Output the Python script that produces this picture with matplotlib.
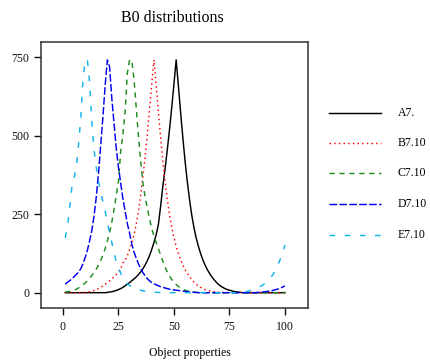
import matplotlib
matplotlib.use("Agg")
import matplotlib.pyplot as plt
from matplotlib.lines import Line2D

x = list(range(1, 101))

a7 = [0]*19 + [1, 2, 3, 5, 7, 10, 13, 17, 22, 27, 32, 38, 44, 50, 58, 66, 76, 88, 102, 118,
                138, 160, 185, 218, 275, 340, 395, 455, 520, 590, 665, 742, 660, 575, 495, 420,
                355, 298, 248, 208, 175, 148, 125, 105, 88, 74, 62, 51, 42, 34, 27, 21, 17, 13,
                10, 8, 6, 4, 3, 2, 1] + [0]*20

b710 = [0]*9 + [1, 2, 3, 5, 7, 10, 13, 17, 22, 27, 32, 38, 44, 50, 58, 66, 76, 95, 102, 118,
                138, 160, 185, 218, 258, 310, 370, 430, 505, 585, 665, 742, 660, 575, 495, 420,
                355, 298, 248, 208, 175, 148, 125, 105, 88, 74, 62, 51, 42, 34, 27, 21, 17, 13,
                10, 8, 6, 4, 3, 2, 1] + [0]*30

c710 = [2, 3, 4, 6, 8, 11, 15, 20, 25, 31, 38, 46, 55, 64, 75, 88, 103, 120, 140, 165,
        190, 225, 265, 310, 355, 450, 505, 575, 700, 742, 740, 680, 590, 500, 420, 350,
        305, 270, 235, 205, 180, 160, 140, 120, 100, 82, 66, 53, 42, 33, 26, 20, 15, 11,
        8, 6, 4, 3, 2, 1] + [0]*39 + [1]

d710 = [27, 33, 38, 44, 51, 58, 66, 76, 92, 112, 135, 165, 198, 245, 305, 380, 470, 560, 660, 742,
        720, 620, 540, 460, 400, 350, 300, 260, 220, 190, 155, 130, 110, 92, 77, 64, 54, 45, 38, 32,
        28, 25, 22, 19, 17, 15, 13, 11, 10, 9, 8, 7, 6, 5, 4, 3, 2, 2, 1, 1] + [0]*27 + \
       [1, 2, 2, 3, 4, 5, 6, 8, 10, 12, 15, 18, 22]

e710 = [175, 210, 270, 335, 365, 400, 470, 555, 675, 742, 742, 670, 545, 455, 400, 355, 320, 290, 260, 225,
        190, 160, 128, 100, 80, 62, 48, 37, 29, 23, 18, 15, 13, 10, 8, 6, 5, 4, 3, 3,
        2, 1, 1] + [0]*36 + \
       [1, 2, 3, 4, 6, 8, 11, 14, 17, 20, 24, 30, 36, 43, 52, 62, 75, 92, 108, 128, 152]

series = [a7, b710, c710, d710, e710]
labels = ["A7.", "B7.10", "C7.10", "D7.10", "E7.10"]
colors = ["#000000", "#FF0000", "#1E8C1E", "#0000EE", "#13B2E8"]
dashes = [None, (1.0, 2.2), (3.6, 3.2), (5.2, 1.6), (3.9, 6.5)]

xticks = [0, 25, 50, 75, 100]
yticks = [0, 250, 500, 750]

serif = ["Liberation Serif", "DejaVu Serif"]
plt.rcParams["font.family"] = serif

W, H = 430, 360
fig = plt.figure(figsize=(W/100, H/100), dpi=100)
ax = fig.add_axes([41/W, 1-308/H, (308-41)/W, (308-42)/H])

LW = 1.05
for ys, lab, col, ds in zip(series, labels, colors, dashes):
    ln, = ax.plot(x, ys, color=col, lw=LW, label=lab)
    if ds is not None:
        ln.set_dashes(ds)

ax.set_xlim(-9.9, 110.4)
ax.set_ylim(-48.8, 799)
ax.set_xticks(xticks)
ax.set_yticks(yticks)
ax.tick_params(direction="out", length=5, width=1.0, labelsize=8.5, colors="#111111")
ax.tick_params(axis="x", pad=4)
ax.tick_params(axis="y", pad=3.6)
for s in ax.spines.values():
    s.set_linewidth(1.1)
    s.set_color("#333333")

fig.text(172/W, 1-18/H, "B0 distributions", ha="center", va="center", fontsize=11.5)
fig.text(190/W, 1-353/H, "Object properties", ha="center", va="center", fontsize=8.5)

# legend drawn on the figure
ys_leg = [112.7, 142.7, 173.3, 204.3, 235.0]
for yy, lab, col, ds in zip(ys_leg, labels, colors, dashes):
    ln = Line2D([329/W, 381/W], [1-yy/H, 1-yy/H], transform=fig.transFigure,
                color=col, lw=LW)
    if ds is not None:
        ln.set_dashes(ds)
    fig.lines.append(ln)
    fig.text(398/W, 1-yy/H, lab, ha="left", va="center", fontsize=8.5)

fig.savefig("out.png", dpi=100)
